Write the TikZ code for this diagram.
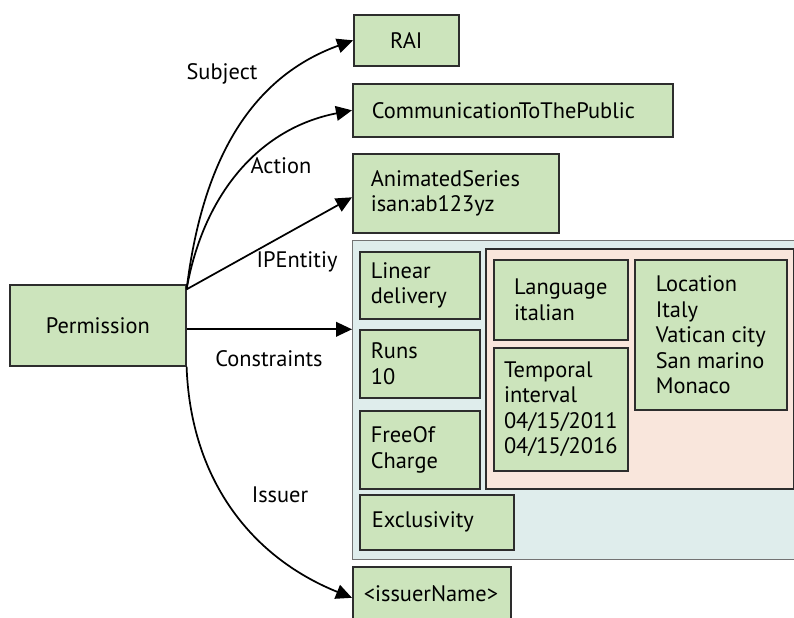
\documentclass[tikz,border=0pt]{standalone}
\usepackage{fontspec}
\setmainfont{PT Sans}
\usetikzlibrary{arrows.meta}
\definecolor{leafgreen}{RGB}{204,228,188}
\definecolor{consblue}{RGB}{223,237,236}
\definecolor{timepink}{RGB}{249,230,220}
\definecolor{edge}{RGB}{45,45,45}
\tikzset{
  leaf/.style={draw=edge, fill=leafgreen, line width=1.2pt, anchor=north west, align=left, inner ysep=0pt},
  arr/.style={line width=1.3pt, -{Triangle[length=12pt,width=11pt]}},
}

\begin{document}
\begin{tikzpicture}[x=0.75pt,y=-0.75pt,font=\fontsize{16.8}{19.1}\selectfont]
        \clip (0,0) rectangle (794,618);
        % constraint containers
        \node[draw=black!55, fill=consblue, line width=1pt, anchor=north west, minimum width=343.5pt, minimum height=239.25pt] (cons) at (352,240) {};
        \node[draw=edge, fill=timepink, line width=1.2pt, anchor=north west, minimum width=231pt, minimum height=180pt] (ctx) at (485,248) {};
        % boxes
        \node[leaf, align=center, minimum width=132pt, minimum height=60.75pt] (perm) at (9,284) {Permission};
        \node[leaf, align=center, minimum width=78.75pt, minimum height=38.25pt] (rai) at (353,14) {RAI};
        \node[leaf, text width=211.5pt, inner xsep=14.25pt, minimum height=39.75pt] (act) at (352,83) {CommunicationToThePublic};
        \node[leaf, text width=127.5pt, inner xsep=13.5pt, minimum height=59.25pt] (anim) at (352,153) {AnimatedSeries\\isan:ab123yz};
        \node[leaf, text width=73.5pt, inner xsep=8.25pt, minimum height=50.25pt] (lin) at (359,251) {Linear\\delivery};
        \node[leaf, text width=73.5pt, inner xsep=8.25pt, minimum height=51pt] (runs) at (359,329) {Runs\\10};
        \node[leaf, text width=73.5pt, inner xsep=8.25pt, minimum height=58.5pt] (free) at (359,410) {FreeOf\\Charge};
        \node[leaf, text width=97.5pt, inner xsep=9pt, minimum height=41.25pt] (excl) at (359,494) {Exclusivity};
        \node[leaf, minimum width=100.5pt, minimum height=60pt] (lang) at (493,259) {Language\\italian};
        \node[leaf, minimum width=100.5pt, minimum height=92.25pt] (temp) at (493,347) {Temporal\\interval\\04/15/2011\\04/15/2016};
        \node[leaf, minimum width=114pt, minimum height=112.5pt] (loc) at (634,259) {Location\\Italy\\Vatican city\\San marino\\Monaco};
        \node[leaf, text width=102pt, inner xsep=8.25pt, minimum height=40.5pt] (issuer) at (352,566) {<issuerName>};
        % connectors
        \draw[arr] ([yshift=-4pt]perm.north east) to[out=83, in=200] (rai.west);
        \draw[arr] ([yshift=-4pt]perm.north east) to[out=80, in=191] (act.west);
        \draw[arr] ([yshift=-4pt]perm.north east) -- ([yshift=-3pt]anim.west);
        \draw[arr] ([yshift=-3pt]perm.east) -- ([yshift=-3pt]perm.east -| cons.west);
        \draw[arr] (perm.south east) to[out=-88, in=158] ([yshift=-3pt]issuer.west);
        % labels
        \node (lsubj) at (222,74) {Subject};
        \node (lact) at (281,166) {Action};
        \node (lip) at (297,262) {IPEntitiy};
        \node (lcons) at (269,359) {Constraints};
        \node (liss) at (280,495) {Issuer};
\end{tikzpicture}
\end{document}
